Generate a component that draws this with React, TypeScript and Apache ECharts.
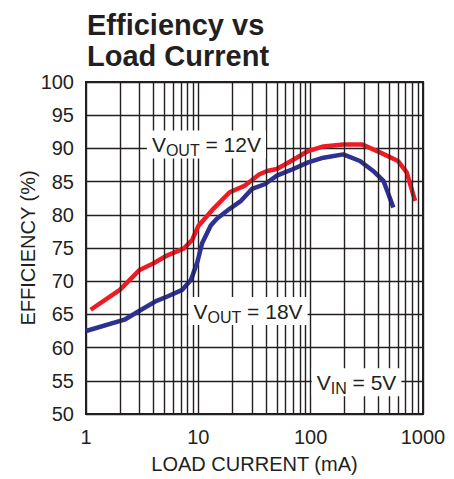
import React, { useEffect, useRef } from "react";
import * as echarts from "echarts";

const FONT = "'Liberation Sans', Arial, Helvetica, sans-serif";

// VOUT = 12V (red)
const currentVout12 = [1.1, 2.0, 3.0, 4.0, 5.3, 7.4, 8.8, 10, 13.6, 19, 26, 35, 41, 50, 70, 95, 130, 195, 285, 414, 600, 716, 850];
const effVout12 = [65.7, 68.7, 71.7, 72.7, 73.9, 74.9, 76.2, 78.3, 80.9, 83.4, 84.4, 86.1, 86.6, 86.9, 88.3, 89.6, 90.3, 90.6, 90.6, 89.4, 88.1, 86.4, 82.1];

// VOUT = 18V (blue)
const currentVout18 = [1.0, 2.2, 3.1, 4.2, 5.3, 7.2, 8.6, 9.8, 10.8, 12.9, 14.6, 19, 24, 30, 39, 50, 70, 95, 130, 195, 275, 360, 445, 545];
const effVout18 = [62.5, 64.2, 65.7, 67.0, 67.7, 68.7, 70.2, 72.9, 75.7, 78.4, 79.4, 80.9, 82.1, 83.9, 84.6, 85.9, 86.9, 87.9, 88.6, 89.1, 88.1, 86.6, 85.1, 81.1];

// minor log grid lines
const minorGridCurrents = [2, 3, 4, 5, 6, 7, 8, 9, 20, 30, 40, 50, 60, 70, 80, 90, 200, 300, 400, 500, 600, 700, 800, 900];

// annotations: [current, efficiency]
const annotationPos = [
  [11.8, 90.6],
  [27.7, 65.5],
  [256, 54.8],
];
const annotationSub = ["OUT", "OUT", "IN"];
const annotationRest = [" = 12V", " = 18V", " = 5V"];

const RED = "#ED1C24";
const BLUE = "#2E3192";
const INK = "#231F20";

export default function App() {
  const ref = useRef<HTMLDivElement>(null);
  useEffect(() => {
    if (!ref.current) return;
    const chart = echarts.init(ref.current, null, { renderer: "svg" });
    const annData = annotationPos.map((p, i) => ({
      coord: p,
      symbol: "rect",
      symbolSize: 0,
      label: {
        show: true,
        position: "inside",
        formatter: `{v|V}{s|${annotationSub[i]}}{r|${annotationRest[i]}}`,
        backgroundColor: "#fff",
        padding: [1, 5, 1, 5],
        rich: {
          v: { fontSize: 21, fontFamily: FONT, color: INK, lineHeight: 26 },
          s: { fontSize: 16, fontFamily: FONT, color: INK, padding: [12, 0, 0, 0], lineHeight: 26 },
          r: { fontSize: 21, fontFamily: FONT, color: INK, lineHeight: 26 },
        },
      },
    }));
    chart.setOption({
      animation: false,
      backgroundColor: "#fff",
      textStyle: { fontFamily: FONT },
      title: {
        text: "Efficiency vs\nLoad Current",
        left: 82,
        top: 4,
        textStyle: { fontSize: 29, fontWeight: "bold", color: INK, fontFamily: FONT, lineHeight: 31 },
      },
      grid: {
        left: 86,
        top: 82,
        right: 31,
        bottom: 62,
        show: true,
        borderColor: INK,
        borderWidth: 2,
        backgroundColor: "transparent",
      },
      xAxis: {
        type: "log",
        logBase: 10,
        min: 1,
        max: 1000,
        name: "LOAD CURRENT (mA)",
        nameLocation: "middle",
        nameGap: 40,
        nameMoveOverlap: false,
        nameTextStyle: { fontSize: 20, color: INK, fontFamily: FONT },
        axisLine: { show: false },
        axisTick: { show: false },
        axisLabel: { fontSize: 20, color: INK, margin: 13, fontFamily: FONT, formatter: (v: number) => String(Math.round(v)) },
        splitLine: { show: true, lineStyle: { color: INK, width: 1.4 } },
      },
      yAxis: {
        type: "value",
        min: 50,
        max: 100,
        interval: 5,
        name: "EFFICIENCY (%)",
        nameLocation: "middle",
        nameGap: 48,
        nameMoveOverlap: false,
        nameTextStyle: { fontSize: 20, color: INK, fontFamily: FONT },
        axisLine: { show: false },
        axisTick: { show: false },
        axisLabel: { fontSize: 20, color: INK, margin: 12, fontFamily: FONT },
        splitLine: { show: true, lineStyle: { color: INK, width: 1.4 } },
      },
      series: [
        {
          type: "line",
          name: "grid",
          data: [],
          silent: true,
          markLine: {
            silent: true,
            symbol: "none",
            label: { show: false },
            lineStyle: { color: INK, width: 1.4, type: "solid" },
            data: minorGridCurrents.map((c) => ({ xAxis: c })),
          },
          markPoint: {
            silent: true,
            data: annData,
          },
          z: 1,
        },
        {
          type: "line",
          name: "VOUT = 12V",
          data: currentVout12.map((c, i) => [c, effVout12[i]]),
          showSymbol: false,
          lineStyle: { color: RED, width: 4.5 },
          itemStyle: { color: RED },
          z: 3,
        },
        {
          type: "line",
          name: "VOUT = 18V",
          data: currentVout18.map((c, i) => [c, effVout18[i]]),
          showSymbol: false,
          lineStyle: { color: BLUE, width: 4.5 },
          itemStyle: { color: BLUE },
          z: 3,
        },
      ],
    });
    return () => chart.dispose();
  }, []);
  return <div ref={ref} style={{ width: 454, height: 479, position: "absolute", left: 0, top: 0 }} />;
}
